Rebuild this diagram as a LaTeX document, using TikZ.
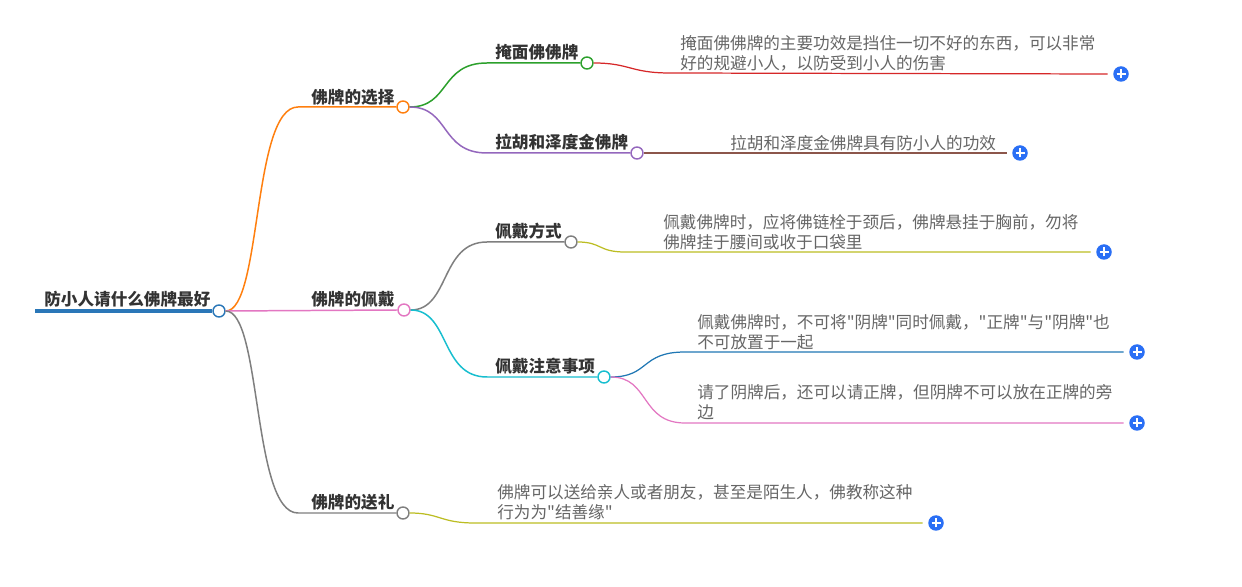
\documentclass[tikz,border=0pt]{standalone}
\usepackage{fontspec}
\setmainfont{Noto Sans CJK SC}[Ligatures=TeXOff]
\definecolor{cOrange}{HTML}{FF7F0E}
\definecolor{cGreen}{HTML}{2CA02C}
\definecolor{cRed}{HTML}{D62728}
\definecolor{cPurple}{HTML}{9467BD}
\definecolor{cBrown}{HTML}{8C564B}
\definecolor{cPink}{HTML}{E377C2}
\definecolor{cGray}{HTML}{7F7F7F}
\definecolor{cOlive}{HTML}{BCBD22}
\definecolor{cCyan}{HTML}{17BECF}
\definecolor{cBlue}{HTML}{1F77B4}
\definecolor{rootBlue}{HTML}{2A77B8}
\definecolor{btnBlue}{HTML}{2A6FF5}
\definecolor{titleText}{HTML}{333333}
\definecolor{leafText}{HTML}{666666}
\tikzset{
  title/.style={font=\fontsize{9.45pt}{11.4pt}\selectfont\bfseries, text=titleText, inner sep=0pt, anchor=base west},
  leaf/.style={font=\fontsize{9.45pt}{11.38pt}\selectfont, text=leafText, inner sep=0pt, anchor=north west, align=left},
  dot/.style={circle, draw=#1, fill=white, line width=0.8pt, minimum size=0.24cm, inner sep=0pt},
  edge/.style={draw=#1, line width=0.85pt},
  leafedge/.style={draw=#1, line width=0.7pt},
  plusbtn/.style={circle, fill=btnBlue, minimum size=0.31cm, inner sep=0pt,
    path picture={
      \draw[white, line width=0.9pt] ([xshift=-0.09cm]path picture bounding box.center) -- ([xshift=0.09cm]path picture bounding box.center);
      \draw[white, line width=0.9pt] ([yshift=-0.09cm]path picture bounding box.center) -- ([yshift=0.09cm]path picture bounding box.center);
    }},
}
\begin{document}
\begin{tikzpicture}[x=0.02cm, y=-0.02cm]
\useasboundingbox[fill=white] (0,0) rectangle (1242,587);

% root
\node[title] (root) at (44,306) {防小人请什么佛牌最好};
\coordinate (r0) at (35,311);
\node[dot=rootBlue] (c0) at (219,311) {};
\draw[rootBlue, line width=2.3pt] (r0) -- (c0.west);

% level 1
\node[dot=cOrange] (c1) at (403,107) {};
\node[dot=cPink] (c2) at (404,310) {};
\node[dot=cGray] (c3) at (403,513) {};
\node[title] (t1) at (311,104) {佛牌的选择};
\node[title] (t2) at (311,306) {佛牌的佩戴};
\node[title] (t3) at (311,509) {佛牌的送礼};
\coordinate (s1) at (298,107);
\coordinate (s3) at (298,513);
\draw[edge=cOrange] (c0.east) .. controls (262,311) and (252,107) .. (s1) -- (c1.west);
\draw[edge=cPink] (c0.east) -- (c2.west);
\draw[edge=cGray] (c0.east) .. controls (262,311) and (252,513) .. (s3) -- (c3.west);

% level 2 under 选择
\node[dot=cGreen] (c11) at (587,63) {};
\node[dot=cPurple] (c12) at (637,153) {};
\node[title] (t11) at (495,59) {掩面佛佛牌};
\node[title] (t12) at (495,149) {拉胡和泽度金佛牌};
\coordinate (s11) at (487,63);
\coordinate (s12) at (487,153);
\draw[edge=cGreen] (c1.east) .. controls (450,107) and (440,63) .. (s11) -- (c11.west);
\draw[edge=cPurple] (c1.east) .. controls (450,107) and (440,153) .. (s12) -- (c12.west);

% level 2 under 佩戴
\node[dot=cGray] (c21) at (571,242) {};
\node[dot=cCyan] (c22) at (604,377) {};
\node[title] (t21) at (495,238) {佩戴方式};
\node[title] (t22) at (495,373) {佩戴注意事项};
\coordinate (s21) at (487,242);
\coordinate (s22) at (487,377);
\draw[edge=cGray] (c2.east) .. controls (450,310) and (440,242) .. (s21) -- (c21.west);
\draw[edge=cCyan] (c2.east) .. controls (450,310) and (440,377) .. (s22) -- (c22.west);

% leaves
\node[plusbtn] (p11) at (1121,74) {};
\node[plusbtn] (p12) at (1020,153) {};
\node[plusbtn] (p21) at (1104,252) {};
\node[plusbtn] (p22a) at (1137,352) {};
\node[plusbtn] (p22b) at (1137,423) {};
\node[plusbtn] (p31) at (936,523) {};

\node[leaf] (l11) at (680,35) {掩面佛佛牌的主要功效是挡住一切不好的东西，可以非常\\好的规避小人，以防受到小人的伤害};
\node[leaf] (l12) at (730,135) {拉胡和泽度金佛牌具有防小人的功效};
\node[leaf] (l21) at (663,214) {佩戴佛牌时，应将佛链栓于颈后，佛牌悬挂于胸前，勿将\\佛牌挂于腰间或收于口袋里};
\node[leaf] (l22a) at (697,314) {佩戴佛牌时，不可将"阴牌"同时佩戴，"正牌"与"阴牌"也\\不可放置于一起};
\node[leaf] (l22b) at (697,384) {请了阴牌后，还可以请正牌，但阴牌不可以放在正牌的旁\\边};
\node[leaf] (l31) at (497,484) {佛牌可以送给亲人或者朋友，甚至是陌生人，佛教称这种\\行为为"结善缘"};

\coordinate (e11) at (670,73);
\coordinate (e21) at (625,252);
\coordinate (e22a) at (685,352);
\coordinate (e22b) at (685,423);
\coordinate (e31) at (475,523);
\draw[leafedge=cRed] (c11.east) .. controls (630,63) and (630,73) .. (e11) -- ([xshift=-3]p11.west);
\draw[leafedge=cBrown] (c12.east) -- ([xshift=-3]p12.west);
\draw[leafedge=cOlive] (c21.east) .. controls (602,242) and (598,252) .. (e21) -- ([xshift=-3]p21.west);
\draw[leafedge=cBlue] (c22.east) .. controls (650,377) and (640,352) .. (e22a) -- ([xshift=-3]p22a.west);
\draw[leafedge=cPink] (c22.east) .. controls (650,377) and (640,423) .. (e22b) -- ([xshift=-3]p22b.west);
\draw[leafedge=cOlive] (c3.east) .. controls (440,513) and (440,523) .. (e31) -- ([xshift=-3]p31.west);
\end{tikzpicture}
\end{document}
